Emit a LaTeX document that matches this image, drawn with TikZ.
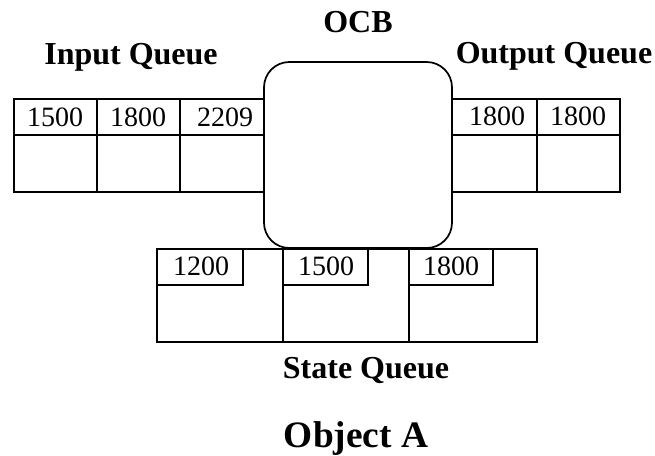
\documentclass[tikz,border=0pt]{standalone}
\usepackage{fontspec}
\setmainfont{Liberation Serif}
\begin{document}
\begin{tikzpicture}[x=0.75pt,y=-0.75pt]
\tikzset{
  cellbox/.style={draw, line width=1.3pt},
  num/.style={font=\fontsize{21}{21}\selectfont, inner sep=0pt},
  lbl/.style={font=\bfseries\fontsize{24}{24}\selectfont, inner sep=0pt, anchor=base},
  title/.style={font=\bfseries\fontsize{28}{28}\selectfont, inner sep=0pt, anchor=base},
  ocbbox/.style={draw, line width=1.3pt, fill=white, rounded corners=19pt}
}
\useasboundingbox (0,0) rectangle (655,455);
% Input queue
\draw[cellbox] (14,99) rectangle (97,135) (97,99) rectangle (180,135) (180,99) rectangle (270,135);
\draw[cellbox] (14,135) rectangle (97,192) (97,135) rectangle (180,192) (180,135) rectangle (270,192);
\node[num] (i1) at (55,117) {1500};
\node[num] (i2) at (138,117) {1800};
\node[num] (i3) at (225,117) {2209};
% Output queue
\draw[cellbox] (446,99) rectangle (537,135) (537,99) rectangle (620,135);
\draw[cellbox] (446,135) rectangle (537,192) (537,135) rectangle (620,192);
\node[num] (o1) at (497,116) {1800};
\node[num] (o2) at (578,116) {1800};
% State queue
\draw[cellbox] (157,249) rectangle (283,342) (283,249) rectangle (409,342) (409,249) rectangle (537,342);
\draw[cellbox] (157,249) rectangle (243,285) (283,249) rectangle (368,285) (409,249) rectangle (493,285);
\node[num] (s1) at (201,266) {1200};
\node[num] (s2) at (326,266) {1500};
\node[num] (s3) at (451,266) {1800};
% OCB
\draw[ocbbox] (264,62) rectangle (452,248);
% Labels
\node[lbl] (ocb) at (358,32) {OCB};
\node[lbl] (inq) at (131,64) {Input Queue};
\node[lbl] (outq) at (554,63) {Output Queue};
\node[lbl] (stq) at (366,378) {State Queue};
\node[title] (obj) at (356,447) {Object A};
\end{tikzpicture}
\end{document}
